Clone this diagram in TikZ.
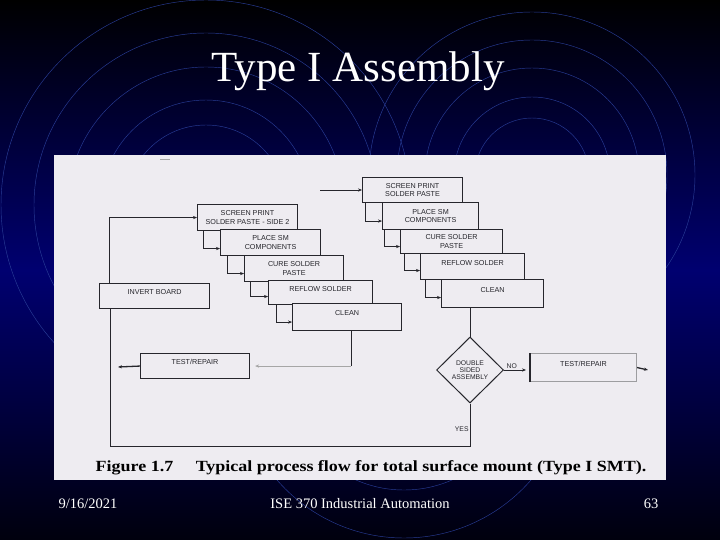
\documentclass[tikz,border=0pt]{standalone}
\usepackage{fontspec}
\setmainfont{Liberation Serif}
\setsansfont{Liberation Sans}
\usetikzlibrary{positioning, arrows.meta, calc, shapes.geometric}

\definecolor{slidenavy}{RGB}{0,0,112}
\definecolor{ringblue}{RGB}{40,60,150}
\definecolor{paper}{RGB}{238,236,241}
\definecolor{ink}{RGB}{38,38,44}

\begin{document}
\begin{tikzpicture}[x=1pt, y=-1pt, >=Stealth,
    ring/.style={ringblue, line width=0.45pt},
    stage/.style={draw=ink, line width=1.1pt, fill=paper, text=ink, align=center,
        font=\sffamily\fontsize{7.2}{8.4}\selectfont, inner sep=1pt, anchor=north west},
    upper/.style={text depth=8pt},
    link/.style={ink, line width=0.9pt},
    flow/.style={link, -{Stealth[length=4pt, width=3.2pt]}},
    tag/.style={text=ink, font=\sffamily\fontsize{6.8}{7.2}\selectfont, inner sep=1pt}]
    \useasboundingbox (0,0) rectangle (720,540);
    % slide background
    \shade[top color=black, bottom color=black!88!slidenavy, middle color=slidenavy] (0,0) rectangle (720,540);
    \begin{scope}
        \clip (0,0) rectangle (720,540);
        \foreach \r in {205,172,138,105,80}
            \draw[ring] (206,205) circle[radius=\r pt];
        \foreach \r in {163,135,107,78,57}
            \draw[ring] (532,175) circle[radius=\r pt];
        \foreach \r in {168,120}
            \draw[ring] (404,370) circle[radius=\r pt];
    \end{scope}
    % scanned figure
    \fill[paper] (54,155) rectangle (666,480);
    \draw[black!35, line width=1pt] (160,160) -- (170,160);

    % first side
    \node[stage, minimum width=100pt, minimum height=25pt] (r1) at (362,177) {SCREEN PRINT\\SOLDER PASTE};
    \node[stage, minimum width=96pt, minimum height=27pt] (r2) at (382,202) {PLACE SM\\COMPONENTS};
    \node[stage, minimum width=102pt, minimum height=24pt] (r3) at (400,229) {CURE SOLDER\\PASTE};
    \node[stage, upper, minimum width=104pt, minimum height=26pt] (r4) at (420,253) {REFLOW SOLDER};
    \node[stage, upper, minimum width=102pt, minimum height=28pt] (r5) at (441,279) {CLEAN};
    % second side
    \node[stage, minimum width=100pt, minimum height=26pt] (l1) at (197,204) {SCREEN PRINT\\SOLDER PASTE - SIDE 2};
    \node[stage, minimum width=100pt, minimum height=26pt] (l2) at (220,229) {PLACE SM\\COMPONENTS};
    \node[stage, minimum width=99pt, minimum height=26pt] (l3) at (244,255) {CURE SOLDER\\PASTE};
    \node[stage, upper, minimum width=104pt, minimum height=24pt] (l4) at (268,280) {REFLOW SOLDER};
    \node[stage, upper, minimum width=109pt, minimum height=27pt] (l5) at (292,303) {CLEAN};
    \node[stage, upper, minimum width=110pt, minimum height=25pt] (invert) at (99,283) {INVERT BOARD};
    \node[stage, upper, minimum width=109pt, minimum height=25pt] (testl) at (140,353) {TEST/REPAIR};
    \node[stage, upper, draw=ink!45, minimum width=106pt, minimum height=28pt] (testr) at (530,353) {TEST/REPAIR};
    \node[diamond, draw=ink, line width=1pt, fill=paper, tag, align=center, inner sep=0pt,
        minimum width=67pt, minimum height=66pt] (dbl) at (470,370) {DOUBLE\\SIDED\\ASSEMBLY};

    \coordinate (feed) at (320,190);
    \coordinate (outl) at (118,367);
    \coordinate (outr) at (648,370);

    \draw[flow] (feed) -- (feed -| r1.west);
    \draw[flow] ([xshift=3pt]r1.south west) |- ([yshift=-5pt]r2.west);
    \draw[flow] ([xshift=2pt]r2.south west) |- ([yshift=-5pt]r3.west);
    \draw[flow] ([xshift=4pt]r3.south west) |- ([yshift=-4pt]r4.west);
    \draw[flow] ([xshift=5pt]r4.south west) |- ([yshift=-4pt]r5.west);
    \draw[link] (dbl.north |- r5.south) -- (dbl.north);
    \draw[flow, shorten >=4pt] (dbl.east) -- node[tag, above, pos=0.3] {NO} (dbl.east -| testr.west);
    \draw[link, line width=1.2pt] (testr.south west) -- (testr.north west);
    \draw[flow, line width=1.3pt] (testr.east) -- (outr);
    \draw[link] (dbl.south) -- node[tag, left, pos=0.6] {YES} ++(0,43) -| ([xshift=11pt]invert.south west);
    \draw[flow] ([xshift=10pt]invert.north west) |- (l1.west);
    \draw[flow] ([xshift=6pt]l1.south west) |- ([yshift=-6pt]l2.west);
    \draw[flow] ([xshift=7pt]l2.south west) |- ([yshift=-5pt]l3.west);
    \draw[flow] ([xshift=6pt]l3.south west) |- ([yshift=-4pt]l4.west);
    \draw[flow] ([xshift=8pt]l4.south west) |- ([yshift=-5pt]l5.west);
    \draw[link] ([xshift=59pt]l5.south west) -- ([xshift=59pt]l5.south west |- testl.east) coordinate (turn);
    \draw[flow, black!35, shorten >=5pt] (turn) -- (testl.east);
    \draw[flow, line width=1.3pt] (testl.west) -- (outl);

    \node[font=\bfseries\fontsize{15.5}{18}\selectfont, text=black, anchor=base] (caption) at (371,471)
        {\scalebox{1.16}[1]{Figure 1.7\quad\ Typical process flow for total surface mount (Type I SMT).}};

    % title and footer
    \node[text=white, font=\fontsize{43}{50}\selectfont, anchor=base] (title) at (358,82) {Type I Assembly};
    \node[text=white, font=\fontsize{14.5}{17}\selectfont, anchor=base] (date) at (88,508) {9/16/2021};
    \node[text=white, font=\fontsize{14.5}{17}\selectfont, anchor=base] (course) at (360,508) {ISE 370 Industrial Automation};
    \node[text=white, font=\fontsize{14.5}{17}\selectfont, anchor=base] (page) at (651,508) {63};
\end{tikzpicture}
\end{document}
